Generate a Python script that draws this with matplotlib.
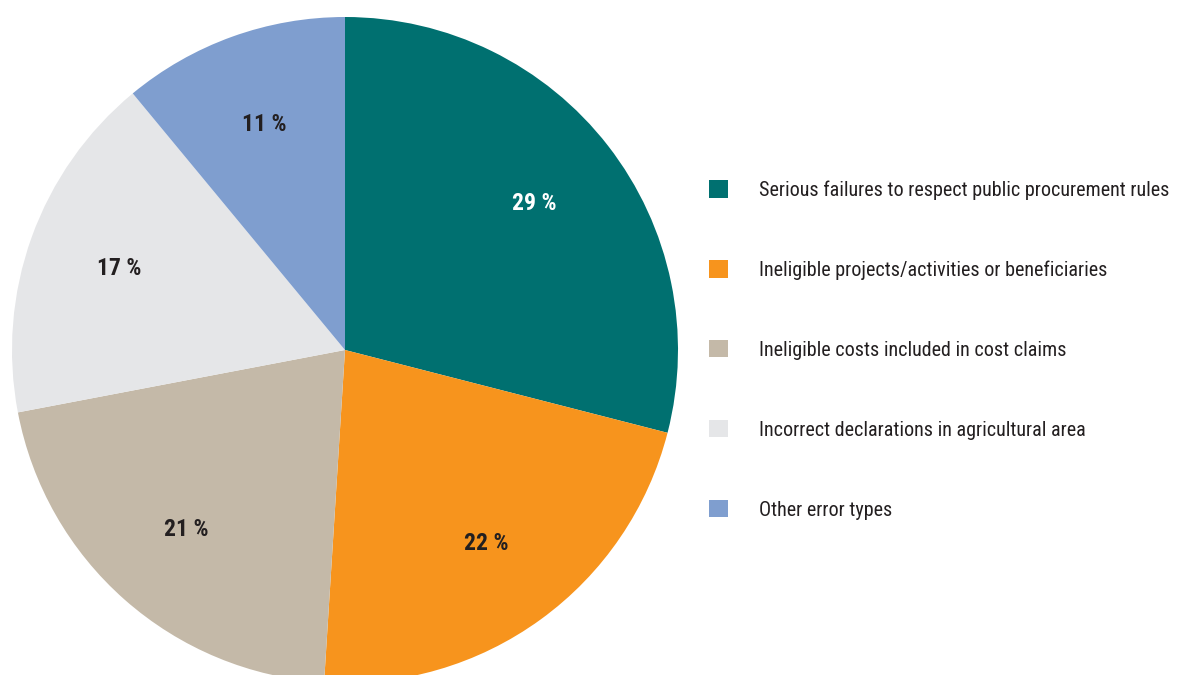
import matplotlib
matplotlib.use("Agg")
import matplotlib.pyplot as plt
from matplotlib import font_manager as fm

categories = ["Serious failures to respect public procurement rules",
              "Ineligible projects/activities or beneficiaries",
              "Ineligible costs included in cost claims",
              "Incorrect declarations in agricultural area",
              "Other error types"]
shares = [29, 22, 21, 17, 11]
colors = ["#007070", "#F7941D", "#C4B9A8", "#E5E6E8", "#7F9ECF"]
label_colors = ["white", "#231F20", "#231F20", "#231F20", "#231F20"]

names = {f.name for f in fm.fontManager.ttflist}
narrow = [n for n in ["Liberation Sans Narrow", "Roboto Condensed", "Open Sans Condensed"] if n in names]
plt.rcParams["font.family"] = narrow + ["DejaVu Sans"]
plt.rcParams["font.stretch"] = "condensed"

W, H = 1182, 675
fig = plt.figure(figsize=(W / 100, H / 100), dpi=100)
ax = fig.add_axes([0, 0, 1, 1])

wedges, texts = ax.pie(shares, colors=colors, startangle=90, counterclock=False,
                       center=(345, 325), radius=333, frame=True,
                       labels=[f"{v} %" for v in shares], labeldistance=0.72,
                       textprops=dict(fontsize=17, fontweight="bold"),
                       wedgeprops=dict(linewidth=0))
for t, c in zip(texts, label_colors):
    t.set_color(c)
    t.set_ha("center"); t.set_va("center")
ax.set_xlim(0, W); ax.set_ylim(0, H)
ax.set_aspect("equal"); ax.axis("off")

leg = ax.legend(wedges, categories, loc="center left", bbox_to_anchor=(691 / W, 325 / H),
                bbox_transform=fig.transFigure, frameon=False, fontsize=14.5,
                handlelength=0.94, handleheight=0.94, handletextpad=1.54,
                labelspacing=3.0, labelcolor="#231F20")
fig.savefig("out.png", dpi=100)
